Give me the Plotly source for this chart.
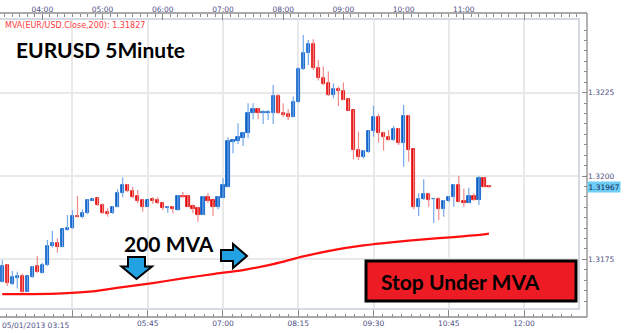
import plotly.graph_objects as go
import pandas as pd

# ---------------- data (EUR/USD, 5-minute candles, 2013-05-01) ----------------
start_time = "2013-05-01 03:20"
n_candles = 98
opens = [1.31683, 1.31733, 1.31676, 1.31695, 1.31700, 1.31653, 1.31698, 1.31730, 1.31710, 1.31732,
         1.31790, 1.31800, 1.31786, 1.31838, 1.31843, 1.31880, 1.31878, 1.31888, 1.31926, 1.31933,
         1.31913, 1.31891, 1.31888, 1.31908, 1.31948, 1.31973, 1.31956, 1.31940, 1.31928, 1.31908,
         1.31930, 1.31928, 1.31918, 1.31905, 1.31906, 1.31898, 1.31941, 1.31940, 1.31910, 1.31903,
         1.31883, 1.31938, 1.31928, 1.31908, 1.31934, 1.31968, 1.32103, 1.32105, 1.32115, 1.32128,
         1.32190, 1.32200, 1.32188, 1.32190, 1.32190, 1.32240, 1.32188, 1.32186, 1.32178, 1.32223,
         1.32320, 1.32368, 1.32396, 1.32323, 1.32293, 1.32278, 1.32243, 1.32261, 1.32255, 1.32230,
         1.32198, 1.32078, 1.32058, 1.32073, 1.32136, 1.32178, 1.32128, 1.32118, 1.32108, 1.32140,
         1.32098, 1.32180, 1.32080, 1.31906, 1.31930, 1.31946, 1.31931, 1.31930, 1.31900, 1.31926,
         1.31936, 1.31973, 1.31926, 1.31920, 1.31940, 1.31928, 1.31993, 1.31970]
highs = [1.31748, 1.31736, 1.31716, 1.31713, 1.31708, 1.31700, 1.31730, 1.31760, 1.31740, 1.31808,
         1.31836, 1.31813, 1.31840, 1.31883, 1.31898, 1.31940, 1.31900, 1.31930, 1.31933, 1.31936,
         1.31918, 1.31903, 1.31910, 1.31960, 1.31996, 1.31976, 1.31968, 1.31958, 1.31930, 1.31928,
         1.31936, 1.31936, 1.31920, 1.31910, 1.31910, 1.31942, 1.31952, 1.31942, 1.31915, 1.31906,
         1.31940, 1.31948, 1.31928, 1.31940, 1.31993, 1.32116, 1.32108, 1.32158, 1.32133, 1.32218,
         1.32218, 1.32203, 1.32198, 1.32198, 1.32273, 1.32246, 1.32218, 1.32200, 1.32238, 1.32326,
         1.32423, 1.32408, 1.32410, 1.32348, 1.32328, 1.32313, 1.32278, 1.32268, 1.32280, 1.32232,
         1.32198, 1.32133, 1.32078, 1.32136, 1.32210, 1.32186, 1.32133, 1.32138, 1.32150, 1.32143,
         1.32213, 1.32182, 1.32080, 1.31948, 1.31990, 1.31948, 1.31933, 1.31936, 1.31928, 1.31940,
         1.31976, 1.32000, 1.31962, 1.31965, 1.31948, 1.32000, 1.31996, 1.31972]
lows = [1.31682, 1.31670, 1.31673, 1.31663, 1.31650, 1.31652, 1.31694, 1.31710, 1.31708, 1.31730,
        1.31786, 1.31770, 1.31786, 1.31836, 1.31841, 1.31876, 1.31873, 1.31886, 1.31926, 1.31910,
        1.31886, 1.31878, 1.31886, 1.31906, 1.31936, 1.31951, 1.31933, 1.31918, 1.31893, 1.31908,
        1.31916, 1.31916, 1.31898, 1.31890, 1.31888, 1.31896, 1.31934, 1.31906, 1.31888, 1.31863,
        1.31883, 1.31918, 1.31880, 1.31900, 1.31934, 1.31966, 1.32068, 1.32096, 1.32090, 1.32113,
        1.32170, 1.32170, 1.32156, 1.32168, 1.32156, 1.32186, 1.32176, 1.32168, 1.32176, 1.32220,
        1.32318, 1.32333, 1.32318, 1.32286, 1.32273, 1.32240, 1.32233, 1.32210, 1.32228, 1.32196,
        1.32050, 1.32048, 1.32053, 1.32070, 1.32118, 1.32100, 1.32076, 1.32106, 1.32106, 1.32093,
        1.32028, 1.32043, 1.31900, 1.31880, 1.31928, 1.31908, 1.31859, 1.31868, 1.31878, 1.31923,
        1.31908, 1.31921, 1.31908, 1.31920, 1.31926, 1.31913, 1.31966, 1.31965]
closes = [1.31730, 1.31678, 1.31698, 1.31700, 1.31653, 1.31700, 1.31728, 1.31713, 1.31732, 1.31790,
          1.31798, 1.31786, 1.31840, 1.31844, 1.31880, 1.31876, 1.31888, 1.31928, 1.31932, 1.31913,
          1.31888, 1.31886, 1.31908, 1.31948, 1.31973, 1.31956, 1.31938, 1.31926, 1.31908, 1.31928,
          1.31926, 1.31918, 1.31905, 1.31908, 1.31900, 1.31940, 1.31936, 1.31908, 1.31901, 1.31883,
          1.31938, 1.31925, 1.31906, 1.31938, 1.31973, 1.32105, 1.32108, 1.32118, 1.32130, 1.32190,
          1.32200, 1.32188, 1.32192, 1.32193, 1.32240, 1.32188, 1.32184, 1.32178, 1.32223, 1.32320,
          1.32368, 1.32396, 1.32323, 1.32293, 1.32276, 1.32243, 1.32260, 1.32254, 1.32228, 1.32196,
          1.32078, 1.32058, 1.32076, 1.32136, 1.32178, 1.32128, 1.32116, 1.32108, 1.32140, 1.32098,
          1.32180, 1.32078, 1.31906, 1.31930, 1.31946, 1.31928, 1.31932, 1.31900, 1.31926, 1.31936,
          1.31973, 1.31923, 1.31920, 1.31940, 1.31928, 1.31993, 1.31968, 1.31967]

mva_times = ["03:20", "03:50", "04:20", "04:50", "05:20", "05:50", "06:20", "06:50", "07:20",
             "07:50", "08:20", "08:50", "09:20", "09:50", "10:20", "10:50", "11:20", "11:25"]
mva_values = [1.31646, 1.31646, 1.31648, 1.31654, 1.31667, 1.31679, 1.31693, 1.31706, 1.31718,
              1.31736, 1.31759, 1.31778, 1.31792, 1.31802, 1.31810, 1.31817, 1.31825, 1.31827]

top_tick_labels = ["04:00", "05:00", "06:00", "07:00", "08:00", "09:00", "10:00", "11:00", ""]
top_tick_times = ["04:00", "05:00", "06:00", "07:00", "08:00", "09:00", "10:00", "11:00", "12:00"]
bottom_tick_times = ["04:30", "05:45", "07:00", "08:15", "09:30", "10:45", "12:00"]
bottom_tick_labels = ["", "05:45", "07:00", "08:15", "09:30", "10:45", "12:00"]
first_bottom_label = "05/01/2013 03:15"
price_ticks = [1.3175, 1.3200, 1.3225]
price_tick_labels = ["1.3175", "1.3200", "1.3225"]
last_price = 1.31967
mva_label = "MVA(EUR/USD.Close,200): 1.31827"
title_text = "EURUSD 5Minute"
mva_note = "200 MVA"
box_text = "Stop Under MVA"

# ---------------- layout geometry (pixels) ----------------
W, H = 624, 333
FL, FR, FT, FB = 0, 587, 13, 317      # outer frame
IR, IT, IB = 578, 20, 308             # inner plot area
X_RANGE = ["2013-05-01 03:17:47", "2013-05-01 12:53:46"]
Y_RANGE = [1.3160432, 1.3246763]


def pxx(x):
    return (x - FL) / (FR - FL)


def pxy(y):
    return (FB - y) / (FB - FT)


day = "2013-05-01 "
times = pd.date_range(start_time, periods=n_candles, freq="5min")

BLUE, RED = "#0b5fc6", "#e30b0b"
BLUE_W, RED_W = "#74aaea", "#f28a8a"
TICK_FONT = dict(family="DejaVu Sans", size=7.5, color="#4f4f86")

up = [c >= o for o, c in zip(opens, closes)]

fig = go.Figure()

# wicks
for flag, col in ((True, BLUE_W), (False, RED_W)):
    wx, wy = [], []
    for t, h, l, u in zip(times, highs, lows, up):
        if u == flag:
            wx += [t, t, None]
            wy += [l, h, None]
    fig.add_trace(go.Scatter(x=wx, y=wy, mode="lines", line=dict(color=col, width=1.2),
                             hoverinfo="skip", showlegend=False))

# bodies
for flag, col in ((True, BLUE), (False, RED)):
    bx, bb, bh = [], [], []
    for t, o, c, u in zip(times, opens, closes, up):
        if u == flag:
            bx.append(t)
            bb.append(min(o, c))
            bh.append(abs(c - o))
    fig.add_trace(go.Bar(x=bx, y=bh, base=bb, width=200000, marker=dict(color=col, line=dict(color=col, width=0.8)),
                         hoverinfo="skip", showlegend=False))

# MVA line
fig.add_trace(go.Scatter(x=[day + t for t in mva_times], y=mva_values, mode="lines",
                         line=dict(color="#ff1010", width=2.2, shape="spline", smoothing=0.8),
                         hoverinfo="skip", showlegend=False))

# dummy traces to register the extra axes
fig.add_trace(go.Scatter(x=[times[0]], y=[None], xaxis="x2", yaxis="y", showlegend=False, hoverinfo="skip"))
fig.add_trace(go.Scatter(x=[times[0]], y=[None], xaxis="x3", yaxis="y", showlegend=False, hoverinfo="skip"))
fig.add_trace(go.Scatter(x=[times[0]], y=[None], xaxis="x", yaxis="y2", showlegend=False, hoverinfo="skip"))

xdom = [0, pxx(IR)]
ydom = [pxy(IB), pxy(IT)]

fig.update_layout(
    width=W, height=H,
    margin=dict(l=FL, r=W - FR, t=FT, b=H - FB, pad=0),
    paper_bgcolor="white", plot_bgcolor="white",
    barmode="overlay", bargap=0,
    showlegend=False,
    xaxis=dict(type="date", domain=xdom, range=X_RANGE, autorange=False, anchor="y",
               showgrid=True, gridcolor="#e9e9e9", gridwidth=1.5,
               tickmode="array", tickvals=[day + t for t in bottom_tick_times],
               showticklabels=False, ticks="", zeroline=False,
               showline=True, mirror=True, linecolor="#d3dae4", linewidth=1.5,
               rangeslider=dict(visible=False)),
    xaxis2=dict(type="date", domain=xdom, range=X_RANGE, autorange=False, overlaying="x",
                anchor="free", position=0, side="bottom", showgrid=False, zeroline=False,
                showline=False, tickmode="array", tickvals=[day + t for t in bottom_tick_times],
                ticktext=bottom_tick_labels, ticks="inside", ticklen=7, tickcolor="#8a8a8a",
                tickwidth=1, tickfont=TICK_FONT,
                minor=dict(tickmode="linear", tick0=day + "03:15", dtick=562500, ticks="inside",
                           ticklen=3, tickcolor="#8a8a8a", showgrid=False)),
    xaxis3=dict(type="date", domain=xdom, range=X_RANGE, autorange=False, overlaying="x",
                anchor="free", position=1, side="top", showgrid=False, zeroline=False,
                showline=False, tickmode="array", tickvals=[day + t for t in top_tick_times],
                ticktext=top_tick_labels, ticks="inside", ticklen=6, tickcolor="#8a8a8a",
                tickwidth=1, tickfont=TICK_FONT,
                minor=dict(tickmode="linear", tick0=day + "04:00", dtick=450000, ticks="inside",
                           ticklen=3, tickcolor="#8a8a8a", showgrid=False)),
    yaxis=dict(domain=ydom, range=Y_RANGE, autorange=False, anchor="x",
               showgrid=True, gridcolor="#e9e9e9", gridwidth=1.5,
               tickmode="array", tickvals=price_ticks, showticklabels=False, ticks="",
               zeroline=False, showline=True, mirror=True, linecolor="#d3dae4", linewidth=1.5),
    yaxis2=dict(domain=ydom, range=Y_RANGE, autorange=False, overlaying="y", anchor="free",
                position=1, side="right", showgrid=False, zeroline=False, showline=False,
                tickmode="array", tickvals=price_ticks, ticktext=price_tick_labels,
                ticks="inside", ticklen=5, tickcolor="#8a8a8a", tickfont=TICK_FONT,
                minor=dict(tickmode="linear", tick0=1.3175, dtick=0.0003125, ticks="inside",
                           ticklen=3, tickcolor="#8a8a8a", showgrid=False)),
)

shapes = [
    # outer frame lines
    dict(type="line", xref="paper", yref="paper", x0=0, x1=1, y0=1, y1=1,
         line=dict(color="#8c8c8c", width=1.3), layer="above"),
    dict(type="line", xref="paper", yref="paper", x0=1, x1=1, y0=0, y1=1,
         line=dict(color="#8c8c8c", width=1.3), layer="above"),
    dict(type="line", xref="paper", yref="paper", x0=0, x1=1, y0=0, y1=0,
         line=dict(color="#8c8c8c", width=1.3), layer="above"),
    # red box
    dict(type="rect", xref="paper", yref="paper", x0=pxx(366), x1=pxx(576), y0=pxy(301), y1=pxy(261),
         fillcolor="#ed1c24", line=dict(color="black", width=3), layer="above"),
]


def path(points):
    s = "M " + " L ".join(f"{pxx(x):.5f},{pxy(y):.5f}" for x, y in points) + " Z"
    return s


down_arrow = [(128, 257), (145, 257), (145, 266.5), (152, 266.5), (136.5, 279), (121.5, 266.5), (128, 266.5)]
right_arrow = [(221, 250), (233, 250), (233, 244), (247, 256), (233, 268), (233, 261), (221, 261)]
for pts in (down_arrow, right_arrow):
    shapes.append(dict(type="path", xref="paper", yref="paper", path=path(pts),
                       fillcolor="#23a2e3", line=dict(color="black", width=2), layer="above"))
fig.update_layout(shapes=shapes)

annotations = [
    dict(text=mva_label, xref="paper", yref="paper", x=pxx(3), y=pxy(25.5), xanchor="left",
         yanchor="middle", showarrow=False, font=dict(family="DejaVu Sans", size=8, color="#ff3b3b")),
    dict(text=title_text, xref="paper", yref="paper", x=pxx(14), y=pxy(49), xanchor="left",
         yanchor="middle", showarrow=False, font=dict(family="Lato", size=21, color="black", weight="bold")),
    dict(text=mva_note, xref="paper", yref="paper", x=pxx(122), y=pxy(243), xanchor="left",
         yanchor="middle", showarrow=False, font=dict(family="Lato", size=21, color="black", weight="bold")),
    dict(text=box_text, xref="paper", yref="paper", x=pxx(460), y=pxy(281.5), xanchor="center",
         yanchor="middle", showarrow=False, font=dict(family="Lato", size=21, color="black", weight="bold")),
    dict(text=first_bottom_label, xref="paper", yref="paper", x=pxx(0), y=pxy(325.5), xanchor="left",
         yanchor="middle", showarrow=False, font=TICK_FONT),
    dict(text=f"{last_price:.5f}", xref="paper", yref="y", x=1, y=last_price, xanchor="left",
         yanchor="middle", showarrow=False, bgcolor="#6dcdf5", borderpad=0.5,
         font=dict(family="DejaVu Sans", size=7.5, color="#1b1b50")),
]
fig.update_layout(annotations=annotations)

fig.write_html("out.html")
